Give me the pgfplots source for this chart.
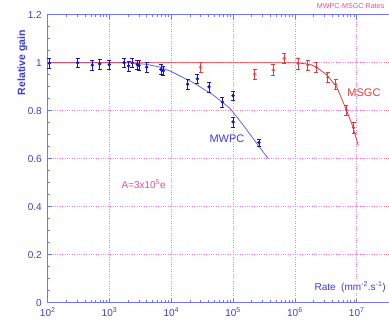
\documentclass[border=0pt]{standalone}
\usepackage{pgfplots}
\pgfplotsset{compat=1.18}
\usepackage{fontspec}
\setmainfont{Liberation Sans}
\definecolor{axisblue}{RGB}{115,115,245}
\definecolor{labelblue}{RGB}{60,60,220}
\definecolor{datablue}{RGB}{20,20,200}
\definecolor{curveblue}{RGB}{100,100,235}
\definecolor{datared}{RGB}{225,60,60}
\definecolor{gridpink}{RGB}{255,120,190}
\definecolor{textpink}{RGB}{245,70,150}
\begin{document}
\begin{tikzpicture}
\begin{axis}[
  scale only axis,
  width=370.8pt, height=288pt,
  xmode=log, xmin=1e2, xmax=1e8,
  ymin=0, ymax=1.2,
  ytick={0,0.2,...,1.2},
  minor y tick num=3,
  xtick={1e2,1e3,1e4,1e5,1e6,1e7},
  xticklabels={10\textsuperscript{2},10\textsuperscript{3},10\textsuperscript{4},10\textsuperscript{5},10\textsuperscript{6},10\textsuperscript{7}},
  ytick pos=left,
  /pgf/number format/assume math mode=true,
  ticklabel style={font=\fontsize{10}{12}\selectfont, text=labelblue},
  yticklabel style={xshift=-2.5pt},
  xticklabel style={yshift=-1.5pt},
  axis line style={axisblue, line width=1.2pt},
  every tick/.style={axisblue, line width=0.7pt},
  major tick length=4pt, minor tick length=2.5pt,
  grid=major,
  major grid style={gridpink, dotted, line width=0.8pt},
  clip=false,
]
% blue fit curve
\addplot[curveblue, line width=0.8pt] coordinates {
 (100,1.0) (2000,1.0) (4000,0.993) (6500,0.982) (10000,0.963) (22700,0.917)
 (47900,0.865) (89100,0.81) (146000,0.74) (241000,0.664) (371000,0.60)};
% red fit curve
\addplot[datared, line width=0.8pt] coordinates {
 (100,1.0) (1e6,1.0) (1.12e6,0.999) (1.76e6,0.993) (2.25e6,0.981) (3.27e6,0.949)
 (4.74e6,0.9) (6.46e6,0.817) (8.3e6,0.747) (1.06e7,0.657)};
% MWPC data
\addplot[datablue, only marks, mark=*, mark size=1.5pt,
  error bars/.cd, y dir=both, y explicit,
  error bar style={datablue, line width=0.5pt},
  error mark options={rotate=90, mark size=2pt, datablue}] coordinates {
 (106,0.998) +- (0,0.02)
 (305,1.0) +- (0,0.02)
 (527,0.990) +- (0,0.02)
 (693,0.995) +- (0,0.02)
 (994,0.992) +- (0,0.02)
 (1718,1.0) +- (0,0.02)
 (2040,0.986) +- (0,0.02)
 (2345,1.0) +- (0,0.02)
 (2818,0.992) +- (0,0.02)
 (3000,0.989) +- (0,0.02)
 (3981,0.981) +- (0,0.02)
 (6800,0.972) +- (0,0.02)
 (7440,0.967) +- (0,0.02)
 (18400,0.91) +- (0,0.02)
 (26400,0.933) +- (0,0.02)
 (40700,0.899) +- (0,0.02)
 (67000,0.836) +- (0,0.02)
 (99800,0.8625) +- (0,0.02)
 (99800,0.753) +- (0,0.02)
 (262000,0.668) +- (0,0.015)
};
% MSGC data (open)
\addplot[datared, only marks, mark=o, mark size=1.6pt,
  error bars/.cd, y dir=both, y explicit,
  error bar style={datared, line width=0.5pt},
  error mark options={rotate=90, mark size=2pt, datared}] coordinates {
 (29900,0.981) +- (0,0.022)
 (224000,0.952) +- (0,0.022)
 (448000,0.970) +- (0,0.022)
 (667000,1.018) +- (0,0.022)
};
% MSGC data (filled)
\addplot[datared, only marks, mark=*, mark size=1.2pt,
  error bars/.cd, y dir=both, y explicit,
  error bar style={datared, line width=0.5pt},
  error mark options={rotate=90, mark size=2pt, datared}] coordinates {
 (1.12e6,0.997) +- (0,0.022)
 (1.61e6,0.990) +- (0,0.022)
 (2.22e6,0.981) +- (0,0.022)
 (3.39e6,0.939) +- (0,0.022)
 (4.57e6,0.910) +- (0,0.022)
 (6.8e6,0.803) +- (0,0.022)
 (8.9e6,0.729) +- (0,0.022)
};
\node[anchor=west, text=textpink, font=\fontsize{10}{12}\selectfont] at (axis cs:1375,0.495) {A=3x10\textsuperscript{5}e};
\node[text=labelblue, font=\fontsize{11}{13}\selectfont] at (axis cs:79600,0.682) {MWPC};
\node[text=datared, font=\fontsize{11}{13}\selectfont] at (axis cs:1.31e7,0.875) {MSGC};
\node[anchor=west, fill=white, inner sep=1pt, text=labelblue, font=\fontsize{10}{12}\selectfont] at (axis cs:1.99e6,0.065) {Rate\ \ (mm\textsuperscript{-2}.s\textsuperscript{-1})};
\node[anchor=west, inner sep=0pt, text=textpink, font=\fontsize{7.2}{9}\selectfont] at (axis cs:2.25e6,1.235) {MWPC-MSGC Rates};
\node[rotate=90, text=labelblue, font=\bfseries\fontsize{10.5}{12}\selectfont] at ([xshift=-25.2pt]axis cs:100,1.0) {Relative gain};
\end{axis}
\pgfresetboundingbox
\path[use as bounding box] ([xshift=-47.7pt,yshift=-19.3pt]current axis.south west) rectangle ++(389pt,322pt);
\end{tikzpicture}
\end{document}
